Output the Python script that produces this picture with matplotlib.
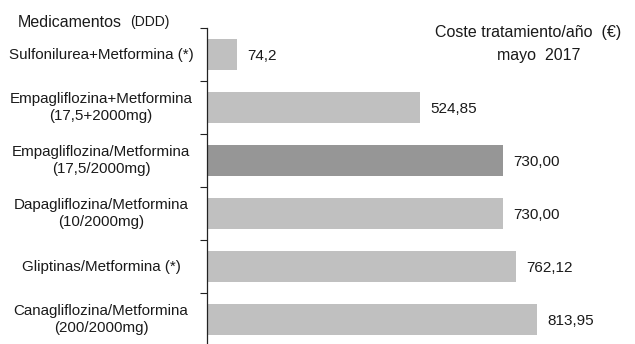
import matplotlib
matplotlib.use("Agg")
import matplotlib.pyplot as plt
from matplotlib.transforms import blended_transform_factory

plt.rcParams["font.family"] = ["Liberation Sans", "DejaVu Sans"]

drugs = [
    "Sulfonilurea+Metformina (*)",
    "Empagliflozina+Metformina\n(17,5+2000mg)",
    "Empagliflozina/Metformina\n(17,5/2000mg)",
    "Dapagliflozina/Metformina\n(10/2000mg)",
    "Gliptinas/Metformina (*)",
    "Canagliflozina/Metformina\n(200/2000mg)",
]
cost = [74.2, 524.85, 730.00, 730.00, 762.12, 813.95]
cost_labels = ["74,2", "524,85", "730,00", "730,00", "762,12", "813,95"]
highlight = 2

LIGHT = "#c0c0c0"
DARK = "#969696"
TXT = "#1a1a1a"

fig = plt.figure(figsize=(6.35, 3.44), dpi=100)
ax = fig.add_axes([0.326, -0.006, 0.674, 0.9246])

ypos = list(range(len(drugs)))
colours = [DARK if i == highlight else LIGHT for i in ypos]
ax.barh(ypos, cost, height=0.6, color=colours, edgecolor="none")

for y, v, lab in zip(ypos, cost, cost_labels):
    ax.annotate(lab, (v, y), xytext=(7.5, -1), textcoords="offset points",
                va="center", ha="left", fontsize=11, color=TXT)

ax.set_xlim(0, 1057)
ax.set_ylim(len(drugs) - 0.5, -0.5)

# category labels centred in the left margin
tr = blended_transform_factory(fig.transFigure, ax.transData)
for y, name in zip(ypos, drugs):
    ax.text(0.159, y, name, transform=tr, ha="center", va="center",
            multialignment="center", fontsize=10.9, color=TXT,
            linespacing=1.35)

ax.set_yticks([i - 0.5 for i in range(len(drugs) + 1)])
ax.set_yticklabels([])
ax.set_xticks([])
ax.tick_params(axis="y", direction="out", length=5, width=0.8, color="#222222")
for s in ("top", "right", "bottom"):
    ax.spines[s].set_visible(False)
ax.spines["left"].set_linewidth(0.9)
ax.spines["left"].set_color("#222222")

fig.text(0.028, 0.935, "Medicamentos", fontsize=11.5, color=TXT, va="center")
fig.text(0.205, 0.935, "(DDD)", fontsize=10, color=TXT, va="center")
fig.text(0.832, 0.905, "Coste tratamiento/año  (€)", fontsize=11.5, color=TXT,
         ha="center", va="center")
fig.text(0.848, 0.840, "mayo  2017", fontsize=11.5, color=TXT,
         ha="center", va="center")

fig.savefig("out.png", dpi=100)
